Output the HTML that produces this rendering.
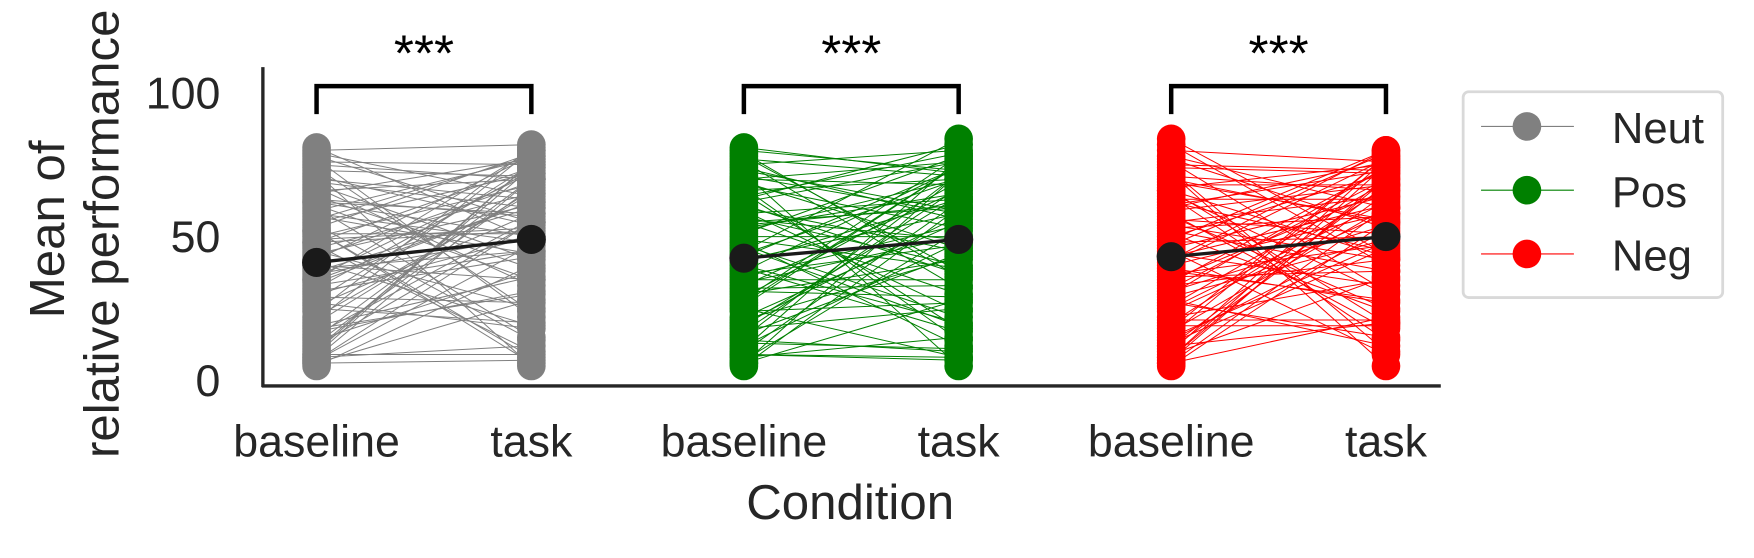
<!DOCTYPE html>
<html><head><meta charset="utf-8"><style>
html,body{margin:0;padding:0;background:#fff;}
svg{display:block;font-family:"Liberation Sans","DejaVu Sans",sans-serif;}
</style></head><body>
<svg id="chart" width="1754" height="558" viewBox="0 0 1568 498.8" xmlns="http://www.w3.org/2000/svg">
<g id="lines"></g>
<g id="dots"></g>
<g id="means"></g>
<line x1="235" y1="60" x2="235" y2="346" stroke="#262626" stroke-width="3"/>
<line x1="234" y1="345" x2="1288" y2="345" stroke="#262626" stroke-width="3"/>
<g id="yticks" font-size="40" fill="#262626" text-anchor="end"></g>
<g id="xticks" font-size="40" fill="#262626" text-anchor="middle"></g>
<g id="brackets"></g>
<text x="760" y="464" font-size="44" fill="#262626" text-anchor="middle">Condition</text>
<text transform="translate(57,205) rotate(-90)" font-size="44" fill="#262626" text-anchor="middle">Mean of</text>
<text transform="translate(106,209) rotate(-90)" font-size="44" fill="#262626" text-anchor="middle">relative performance</text>
<g>
<rect x="1308" y="82" width="232" height="184" rx="5" fill="#fff" stroke="#d9d9d9" stroke-width="2.5"/>
<g><line x1="1324" y1="113" x2="1407" y2="113" stroke="#808080" stroke-width="1"/><circle cx="1365" cy="113" r="12.8" fill="#808080"/><text x="1441" y="128" font-size="39" fill="#262626">Neut</text></g>
<g><line x1="1324" y1="170" x2="1407" y2="170" stroke="#008000" stroke-width="1"/><circle cx="1365" cy="170" r="12.8" fill="#008000"/><text x="1441" y="185" font-size="39" fill="#262626">Pos</text></g>
<g><line x1="1324" y1="227" x2="1407" y2="227" stroke="#ff0000" stroke-width="1"/><circle cx="1365" cy="227" r="12.8" fill="#ff0000"/><text x="1441" y="242" font-size="39" fill="#262626">Neg</text></g>
</g>
</svg>
<script>
const conditions=["Neut","Pos","Neg"];
const colors=["#808080","#008000","#ff0000"];
const xLabels=["baseline","task"];
const yTicks=[0,50,100];
const neutBase=[5,8,12,15,18,22,25,28,30,33,35,38,40,42,45,48,50,52,55,58,60,62,65,68,70,72,75,78,80,6,10,14,20,27,32,37,44,47,53,57,63,67,73,77,79,7,9,11,16,19,24,29,34,39,43,49,54,59,64,69,74,76,81,13,17,21,26,31,36,41,46,51,56,61,66,71,6,7,8,9,52,48,62,35];
const neutTask=[40,12,55,70,30,65,20,75,50,45,80,60,35,78,25,52,68,8,72,48,15,58,77,42,63,5,70,55,82,28,76,38,66,18,73,50,61,10,79,44,57,33,71,22,64,47,9,74,56,36,81,27,62,45,69,53,14,77,39,60,24,75,49,67,31,80,58,43,72,19,65,51,78,35,70,54,7,55,70,76,6,74,50,62];
const posBase=[5,8,12,15,18,22,25,28,30,33,35,38,40,42,45,48,50,52,55,58,60,62,65,68,70,72,75,78,80,6,10,14,20,27,32,37,44,47,53,57,63,67,73,77,79,7,9,11,16,19,24,29,34,39,43,49,54,59,64,69,74,76,81,13,17,21,26,31,36,41,46,51,56,61,66,71,6,9,55,70];
const posTask=[60,15,48,72,25,55,8,78,42,66,35,74,20,58,84,12,50,70,30,63,45,76,18,53,68,5,80,38,73,28,62,10,57,75,33,47,70,22,65,40,82,14,59,71,36,52,7,77,44,64,27,69,50,17,74,39,61,24,79,46,56,32,72,11,67,43,75,29,54,63,19,78,49,37,70,58,72,8,60,76];
const negBase=[5,8,12,15,18,22,25,28,30,33,35,38,40,42,45,48,50,52,55,58,60,62,65,68,70,72,75,78,82,6,10,14,20,27,32,37,44,47,53,57,63,67,73,77,84,7,9,11,16,19,24,29,34,39,43,49,54,59,64,69,74,76,80,13,17,21,26,31,36,41,46,51,56,61,66,71,6,8,12,66];
const negTask=[55,70,20,48,78,35,62,12,74,42,66,28,58,80,9,50,72,38,64,18,76,45,30,68,55,5,73,60,40,22,77,52,67,15,70,47,33,79,57,25,63,75,10,53,44,71,36,65,78,19,58,49,74,27,61,80,42,68,14,56,72,31,76,46,60,21,69,54,38,77,64,24,51,73,43,66,60,75,68,20];
const meanBase=[41,42.5,43];
const meanTask=[49,49,50];
const baseSeries=[neutBase,posBase,negBase];
const taskSeries=[neutTask,posTask,negTask];
const xPos=(g,k)=>283+g*382+k*192;
const yPos=v=>340-v*2.57;
const NS="http://www.w3.org/2000/svg";
function mk(tag,attrs,parent){const e=document.createElementNS(NS,tag);for(const k in attrs)e.setAttribute(k,attrs[k]);parent.appendChild(e);return e;}
const L=document.getElementById('lines'),D=document.getElementById('dots'),M=document.getElementById('means');
conditions.forEach((c,g)=>{
  const b=baseSeries[g],t=taskSeries[g];
  for(let i=0;i<b.length;i++){
    const l=mk('line',{x1:xPos(g,0),y1:yPos(b[i]),x2:xPos(g,1),y2:yPos(t[i]),stroke:colors[g],'stroke-width':0.9},L);
    
    
  }
  for(let i=0;i<b.length;i++){
    const p1=mk('circle',{cx:xPos(g,0),cy:yPos(b[i]),r:12.8,fill:colors[g]},D);
    
    
    const p2=mk('circle',{cx:xPos(g,1),cy:yPos(t[i]),r:12.8,fill:colors[g]},D);
    
    
  }
  const ml=mk('line',{x1:xPos(g,0),y1:yPos(meanBase[g]),x2:xPos(g,1),y2:yPos(meanTask[g]),stroke:'#1a1a1a','stroke-width':3},M);
  
  
  [0,1].forEach(k=>{
    const mc=mk('circle',{cx:xPos(g,k),cy:yPos(k?meanTask[g]:meanBase[g]),r:13,fill:'#1a1a1a'},M);
    
    
    const tx=mk('text',{x:xPos(g,k),y:408},document.getElementById('xticks'));
    tx.textContent=xLabels[k];
    
    
  });
  const B=document.getElementById('brackets');
  const br=mk('path',{d:`M${xPos(g,0)} 102 V77 H${xPos(g,1)} V102`,fill:'none',stroke:'#000','stroke-width':4},B);
  
  
  const st=mk('text',{x:(xPos(g,0)+xPos(g,1))/2,y:63,'font-size':46,'text-anchor':'middle',fill:'#000'},B);
  st.textContent='***';
  
  
});
yTicks.forEach(v=>{
  const t=mk('text',{x:197,y:yPos(v)+14},document.getElementById('yticks'));
  t.textContent=v;
  
  
});
</script>
</body></html>
